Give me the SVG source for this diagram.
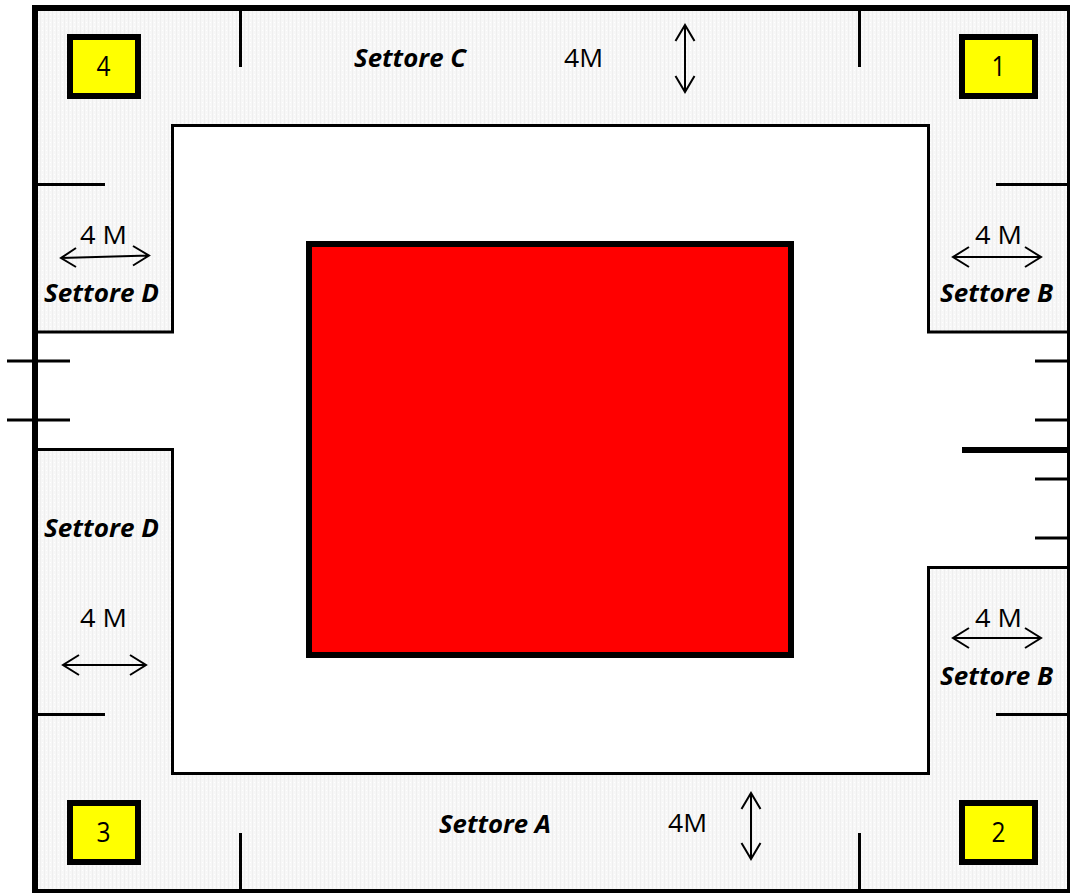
<svg xmlns="http://www.w3.org/2000/svg" width="1070" height="893" viewBox="0 0 1070 893">
<style>
.w{fill:none;stroke:#000;stroke-width:3}
.a{fill:none;stroke:#000;stroke-width:2}
.box{fill:#ff0;stroke:#000;stroke-width:6}
text{font-family:"Open Sans","Noto Sans","Liberation Sans",sans-serif;fill:#000}
.n{font-size:27px}
.m{font-size:26px}
.s{font-size:25px;font-weight:700;font-style:italic}
</style>
<defs>
<pattern id="g" width="4" height="4" patternUnits="userSpaceOnUse">
<rect width="4" height="4" fill="#f7f7f7"/>
<rect x="0" y="0" width="1" height="4" fill="#efefef"/>
<rect x="2" y="2" width="1" height="1" fill="#fff"/>
</pattern>
</defs>
<rect width="1070" height="893" fill="#fff"/>
<path id="area" fill="url(#g)" d="M35 8H1070V892H35Z"/>
<path fill="#fff" d="M172.500 125.500H928.500V332H1070V567.500H928.500V773.500H172.500V449.500H35V332H172.500Z"/>
<g id="walls">
<path class="w" d="M35 332H172.500V125.500H928.500V332H1067M35 449.500H172.500V773.500H928.500V567.500H1067"/>
<rect x="35" y="8" width="1035" height="884" fill="none" stroke="#000" stroke-width="6"/>
<path class="w" d="M240.500 11V67M859.500 11V67M240.500 833V889M859.500 833V889M38 184.500H105M996 184.500H1067M38 714.500H105M996 714.500H1067M7 361H70M7 420H70M1035 361H1067M1035 420H1067M1035 479H1067M1035 538H1067"/>
<path fill="none" stroke="#000" stroke-width="6" d="M962 450H1067"/>
</g>
<rect id="core" x="309" y="244" width="482" height="411" fill="#f00" stroke="#000" stroke-width="6"/>
<g id="box4"><rect class="box" x="70" y="37" width="68" height="59"/><text class="n" x="96.500" y="76" textLength="14" lengthAdjust="spacingAndGlyphs">4</text></g>
<g id="box1"><rect class="box" x="962" y="37" width="73" height="59"/><text class="n" x="991.500" y="76" textLength="14" lengthAdjust="spacingAndGlyphs">1</text></g>
<g id="box3"><rect class="box" x="70" y="803" width="68" height="59"/><text class="n" x="96.500" y="842" textLength="14" lengthAdjust="spacingAndGlyphs">3</text></g>
<g id="box2"><rect class="box" x="962" y="803" width="73" height="59"/><text class="n" x="991.500" y="842" textLength="14" lengthAdjust="spacingAndGlyphs">2</text></g>
<g id="connectors">
<path class="a" d="M685 25V92M675.500 41L685 25L694.500 41M675.500 76L685 92L694.500 76"/>
<path class="a" d="M751 793V859M741.500 809L751 793L760.500 809M741.500 843L751 859L760.500 843"/>
<path class="a" d="M61 258L149 255.500M76 248L61 258L76 267M133 246L149 255.500L133 265.500"/>
<path class="a" d="M953 257H1041M969 247L953 257L969 267M1025 247L1041 257L1025 267"/>
<path class="a" d="M63 665H146M79 655L63 665L79 675M130 655L146 665L130 675"/>
<path class="a" d="M953 638H1041M969 628L953 638L969 648M1025 628L1041 638L1025 648"/>
</g>
<g id="labels">
<text class="s" x="354" y="67" textLength="112" lengthAdjust="spacingAndGlyphs">Settore C</text>
<text class="s" x="439" y="833" textLength="112" lengthAdjust="spacingAndGlyphs">Settore A</text>
<text class="s" x="44" y="302" textLength="115" lengthAdjust="spacingAndGlyphs">Settore D</text>
<text class="s" x="44" y="537" textLength="115" lengthAdjust="spacingAndGlyphs">Settore D</text>
<text class="s" x="940" y="302" textLength="113" lengthAdjust="spacingAndGlyphs">Settore B</text>
<text class="s" x="940" y="685" textLength="113" lengthAdjust="spacingAndGlyphs">Settore B</text>
<text class="m" x="564" y="67" textLength="39" lengthAdjust="spacingAndGlyphs">4M</text>
<text class="m" x="668" y="832" textLength="39" lengthAdjust="spacingAndGlyphs">4M</text>
<text class="m" x="80" y="244" textLength="47" lengthAdjust="spacingAndGlyphs">4 M</text>
<text class="m" x="80" y="627" textLength="47" lengthAdjust="spacingAndGlyphs">4 M</text>
<text class="m" x="975" y="244" textLength="47" lengthAdjust="spacingAndGlyphs">4 M</text>
<text class="m" x="975" y="627" textLength="47" lengthAdjust="spacingAndGlyphs">4 M</text>
</g>
</svg>
